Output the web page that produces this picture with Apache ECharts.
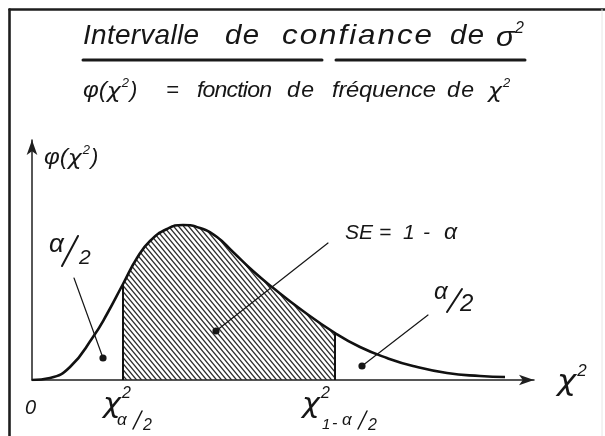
<!DOCTYPE html>
<html>
<head>
<meta charset="utf-8">
<script src="https://cdn.jsdelivr.net/npm/echarts@6/dist/echarts.min.js"></script>
<style>
  html, body { margin: 0; padding: 0; background: #ffffff; }
  #chart { width: 605px; height: 436px; }
</style>
</head>
<body>
<div id="chart"></div>
<script>
// Points along the χ² density curve: χ² value and φ(χ²)
const chiValues = [0, 0.9, 1.9, 3.05, 3.75, 4.55, 5.25, 5.9, 6.75, 7.55, 8.4, 9.25, 10.05, 11.05, 12.0, 13.55, 15.15, 16.4, 17.75, 19.05, 20.75, 22.4, 23.65];
const phiValues = [0, 0.002, 0.013, 0.043, 0.066, 0.096, 0.122, 0.139, 0.151, 0.155, 0.152, 0.143, 0.128, 0.109, 0.093, 0.069, 0.047, 0.033, 0.022, 0.014, 0.007, 0.004, 0.003];

// Confidence bounds χ²_{α/2} and χ²_{1-α/2}
const boundValues = [4.55, 15.15];

const FONT = '"Liberation Sans", Arial, sans-serif';
const GREEK = '"DejaVu Sans", sans-serif';
const INK = '#161616';

const curve = chiValues.map((x, i) => [x, phiValues[i]]);
const phiAt = x => phiValues[chiValues.indexOf(x)];
const inside = curve.filter(p => p[0] >= boundValues[0] && p[0] <= boundValues[1]);

// Diagonal hatching tile for the area 1 - α
function hatchPattern() {
  const w = 5, h = 6;
  const c = document.createElement('canvas');
  c.width = w; c.height = h;
  const g = c.getContext('2d');
  g.strokeStyle = '#2b2b2b';
  g.lineWidth = 1.3;
  for (const k of [-1, 0, 1]) {
    g.beginPath();
    g.moveTo(k * w - w, -h);
    g.lineTo(k * w + 2 * w, 2 * h);
    g.stroke();
  }
  return c;
}

const measureCtx = document.createElement('canvas').getContext('2d');
const fontOf = (size, fam) => 'italic ' + size + 'px ' + (fam || FONT);
const widthOf = (t, size, fam) => { measureCtx.font = fontOf(size, fam); return measureCtx.measureText(t).width; };

// Italic text, left edge at x, vertically centred on y, optionally widened
function txt(text, x, y, size, sx, fam) {
  return {
    type: 'text', z: 50, x: x, y: y, scaleX: sx || 1,
    style: { text: text, x: 0, y: 0, font: fontOf(size, fam), fill: INK, textAlign: 'left', verticalAlign: 'middle' }
  };
}
// Word with widened letters spread evenly from left to right
function spread(text, left, right, y, size, sx) {
  sx = sx || 1;
  const chars = Array.from(text);
  const widths = chars.map(c => widthOf(c, size) * sx);
  const total = widths.reduce((a, b) => a + b, 0);
  const gap = chars.length > 1 ? (right - left - total) / (chars.length - 1) : 0;
  let x = left;
  return chars.map((c, i) => {
    const el = txt(c, x, y, size, sx);
    x += widths[i] + gap;
    return el;
  });
}
// Run of pieces laid out left to right: {t, size, sx, dy, pad, fam}
function run(parts, left, y) {
  let x = left;
  return parts.map(p => {
    x += p.pad || 0;
    const el = txt(p.t, x, y + (p.dy || 0), p.size, p.sx, p.fam);
    x += widthOf(p.t, p.size, p.fam) * (p.sx || 1);
    return el;
  });
}
const chiSq = (size) => [
  { t: 'χ', size: size, sx: 1.12, fam: GREEK, dy: size * 0.06 },
  { t: '2', size: Math.round(size * 0.6), dy: -size * 0.34, pad: 1 }
];
function seg(x1, y1, x2, y2, w, color) {
  return { type: 'line', z: 50, shape: { x1: x1, y1: y1, x2: x2, y2: y2 },
           style: { stroke: color || INK, lineWidth: w || 1.2, lineCap: 'round' } };
}
function dot(x, y) {
  return { type: 'circle', z: 50, shape: { cx: x, cy: y, r: 3.6 }, style: { fill: INK } };
}

const graphics = [
  // frame
  seg(9.5, 9.5, 605, 9.5, 2.6, '#1e1e1e'),
  seg(9.5, 9.5, 9.5, 436, 2.6, '#1e1e1e'),
  seg(602, 9.5, 602, 436, 1, '#e6e6e6'),

  // title
  ...spread('Intervalle', 83, 199, 36, 28),
  ...spread('de', 225, 259, 36, 28, 1.05),
  ...spread('confiance', 282, 432, 36, 28, 1.12),
  ...spread('de', 450, 484, 36, 28, 1.05),
  txt('σ', 496, 38, 28, 1.1),
  txt('2', 515, 29, 16),
  seg(83, 60, 322, 60, 3, '#1a1a1a'),
  seg(336, 60, 525, 60, 3, '#1a1a1a'),

  // subtitle
  ...run([{ t: 'φ(', size: 22, sx: 1.1 }, ...chiSq(21), { t: ')', size: 22, pad: 1 }], 83, 91),
  txt('=', 166, 91, 22),
  ...spread('fonction', 197, 272, 91, 22, 1.05),
  ...spread('de', 287, 314, 91, 22, 1.05),
  ...spread('fréquence', 332, 436, 91, 22, 1.08),
  ...spread('de', 447, 474, 91, 22, 1.05),
  ...run(chiSq(21), 488, 91),

  // axis titles
  ...run([{ t: 'φ(', size: 22, sx: 1.1 }, ...chiSq(21), { t: ')', size: 22, pad: 1 }], 44, 158),
  ...run(chiSq(29), 557, 381),
  txt('0', 25, 408, 20),

  // χ²_{α/2}
  ...run(chiSq(27), 103, 403),
  txt('α', 117, 420, 17),
  seg(133, 429, 142, 411, 1.5),
  txt('2', 143, 426, 16),

  // χ²_{1-α/2}
  ...run(chiSq(27), 302, 403),
  txt('1', 322, 425, 15),
  txt('-', 332, 424, 16),
  txt('α', 342, 420, 17),
  seg(358, 429, 367, 411, 1.5),
  txt('2', 368, 426, 16),

  // left α/2
  txt('α', 49, 245, 26),
  seg(62, 266, 78, 236, 2),
  txt('2', 79, 258, 21),
  seg(74, 278, 103, 358, 1.2),
  dot(103, 358),

  // SE = 1 - α
  txt('SE', 345, 233, 21),
  txt('=', 379, 233, 21),
  txt('1', 403, 233, 21),
  txt('-', 423, 233, 21),
  txt('α', 444, 233, 23),
  seg(216, 331, 328, 243, 1.2),
  dot(216, 331),

  // right α/2
  txt('α', 434, 292, 24),
  seg(447, 312, 462, 289, 2),
  txt('2', 460, 304, 24),
  seg(362, 366, 428, 315, 1.2),
  dot(362, 366)
];

const chart = echarts.init(document.getElementById('chart'), null, { renderer: 'canvas' });

const axisCommon = {
  type: 'value',
  axisLine: { show: true, symbol: ['none', 'arrow'], symbolSize: [8, 15], lineStyle: { color: '#1f1f1f', width: 1.5 } },
  axisTick: { show: false },
  axisLabel: { show: false },
  splitLine: { show: false }
};

chart.setOption({
  backgroundColor: '#ffffff',
  animation: false,
  grid: { left: 32, right: 71, top: 140, bottom: 56 },
  xAxis: Object.assign({}, axisCommon, { min: 0, max: 25.1 }),
  yAxis: Object.assign({}, axisCommon, { min: 0, max: 0.240 }),
  series: [
    {
      name: 'SE = 1 - α', type: 'line', data: inside, smooth: true, symbol: 'none',
      lineStyle: { width: 0 },
      areaStyle: { color: { image: hatchPattern(), repeat: 'repeat' }, opacity: 1 },
      z: 2
    },
    {
      name: 'φ(χ²)', type: 'line', data: curve, smooth: true, symbol: 'none',
      lineStyle: { color: '#111111', width: 2.6 },
      z: 4
    },
    ...boundValues.map(b => ({
      type: 'line', data: [[b, 0], [b, phiAt(b)]], symbol: 'none',
      lineStyle: { color: '#111111', width: 2 }, z: 3
    }))
  ],
  graphic: graphics
});
</script>
</body>
</html>
